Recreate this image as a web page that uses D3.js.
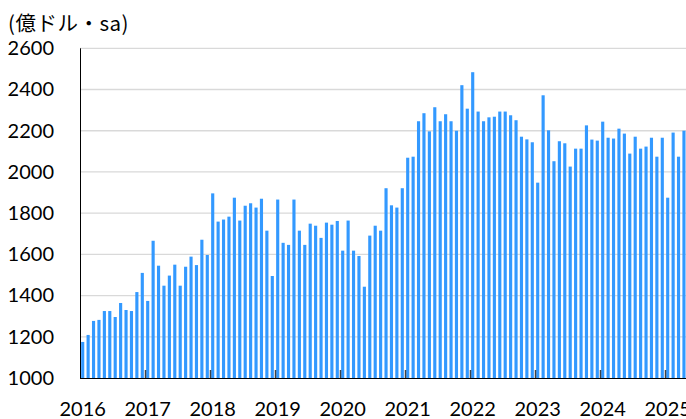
<!DOCTYPE html>
<html>
<head>
<meta charset="utf-8">
<script src="https://cdn.jsdelivr.net/npm/d3@7"></script>
<style>
  body { margin: 0; background: #fff; }
  #wrapper svg { display: block; }
</style>
</head>
<body>
<div id="wrapper"></div>
<script>
// monthly values, Jan 2016 .. Apr 2025 (億ドル, sa)
const values2016 = [1175, 1209, 1277, 1282, 1325, 1325, 1296, 1364, 1330, 1325, 1417, 1510];
const values2017 = [1374, 1666, 1545, 1448, 1497, 1550, 1448, 1540, 1589, 1548, 1671, 1597];
const values2018 = [1896, 1759, 1769, 1783, 1875, 1764, 1836, 1848, 1827, 1870, 1715, 1495];
const values2019 = [1866, 1656, 1646, 1866, 1715, 1646, 1749, 1739, 1680, 1754, 1744, 1762];
const values2020 = [1618, 1764, 1618, 1592, 1443, 1691, 1739, 1715, 1921, 1838, 1827, 1921];
const values2021 = [2069, 2074, 2246, 2285, 2197, 2314, 2246, 2280, 2246, 2200, 2421, 2307];
const values2022 = [2484, 2293, 2246, 2265, 2268, 2293, 2293, 2275, 2251, 2171, 2158, 2144];
const values2023 = [1948, 2372, 2202, 2052, 2149, 2139, 2026, 2113, 2113, 2226, 2157, 2152];
const values2024 = [2244, 2166, 2162, 2210, 2186, 2089, 2171, 2113, 2123, 2166, 2074, 2166];
const values2025 = [1875, 2191, 2074, 2200];

const years = [2016, 2017, 2018, 2019, 2020, 2021, 2022, 2023, 2024, 2025];
const yTicks = [1000, 1200, 1400, 1600, 1800, 2000, 2200, 2400, 2600];
const unitLabel = "(億ドル・sa)";

const dataset = [values2016, values2017, values2018, values2019, values2020,
                 values2021, values2022, values2023, values2024, values2025]
    .flatMap((vals, yi) => vals.map((v, m) => ({ year: years[yi], month: m, value: v })));

// every month of the axis (2016-2025), the chart is cut off at the right edge
const months = years.flatMap(y => d3.range(12).map(m => `${y}-${m + 1}`));
const keyAccessor = d => `${d.year}-${d.month + 1}`;
const yAccessor = d => d.value;

const dimensions = {
    width: 686,
    height: 419,
    left: 80,
    top: 48.3,
    bottom: 378,
    step: 65 / 12,
};

const wrapper = d3.select("#wrapper")
    .append("svg")
    .attr("width", dimensions.width)
    .attr("height", dimensions.height);

const pad = 0.42;
const xScale = d3.scaleBand()
    .domain(months)
    .range([dimensions.left, dimensions.left + months.length * dimensions.step])
    .paddingInner(pad)
    .paddingOuter(pad / 2);

const yScale = d3.scaleLinear()
    .domain([1000, 2600])
    .range([dimensions.bottom, dimensions.top]);

// gridlines
wrapper.append("g")
    .selectAll("line")
    .data(yTicks.slice(1))
    .join("line")
    .attr("x1", dimensions.left)
    .attr("x2", dimensions.width)
    .attr("y1", d => yScale(d))
    .attr("y2", d => yScale(d))
    .attr("stroke", "#d9d9d9")
    .attr("stroke-width", 1.3);

// bars
wrapper.append("g")
    .selectAll("rect")
    .data(dataset)
    .join("rect")
    .attr("x", d => xScale(keyAccessor(d)))
    .attr("width", xScale.bandwidth())
    .attr("y", d => yScale(yAccessor(d)))
    .attr("height", d => yScale(1000) - yScale(yAccessor(d)))
    .attr("fill", "#3399ff");

// y axis
const yAxisGenerator = d3.axisLeft(yScale)
    .tickValues(yTicks)
    .tickSize(0)
    .tickPadding(26)
    .tickFormat(d3.format("d"));

const yAxis = wrapper.append("g")
    .attr("transform", `translate(${dimensions.left},0)`)
    .call(yAxisGenerator);
yAxis.select(".domain").remove();
yAxis.selectAll("text")
    .attr("fill", "#000")
    .style("font-family", "Lato, 'Liberation Sans', sans-serif")
    .style("font-size", "20px");

wrapper.append("line")
    .attr("x1", dimensions.left + 0.5)
    .attr("x2", dimensions.left + 0.5)
    .attr("y1", dimensions.top)
    .attr("y2", dimensions.bottom)
    .attr("stroke", "#000")
    .attr("stroke-width", 1);

// x axis
wrapper.append("line")
    .attr("x1", dimensions.left)
    .attr("x2", dimensions.width)
    .attr("y1", dimensions.bottom + 0.5)
    .attr("y2", dimensions.bottom + 0.5)
    .attr("stroke", "#000")
    .attr("stroke-width", 1.2);

const boundary = key => Math.round(xScale(key) - xScale.step() * xScale.paddingOuter()) + 0.5;

wrapper.append("g")
    .selectAll("line")
    .data(years.slice(1))
    .join("line")
    .attr("x1", d => boundary(`${d}-1`))
    .attr("x2", d => boundary(`${d}-1`))
    .attr("y1", dimensions.bottom - 8)
    .attr("y2", dimensions.bottom)
    .attr("stroke", "#404040")
    .attr("stroke-width", 1.5);

wrapper.append("g")
    .selectAll("text")
    .data(years)
    .join("text")
    .attr("x", d => xScale(`${d}-1`) + xScale.bandwidth() / 2)
    .attr("y", 416)
    .attr("text-anchor", "middle")
    .style("font-family", "Lato, 'Liberation Sans', sans-serif")
    .style("font-size", "20px")
    .text(d => d);

// unit label
wrapper.append("text")
    .attr("x", 8)
    .attr("y", 31)
    .style("font-family", "'Noto Sans CJK JP', sans-serif")
    .style("font-size", "20.5px")
    .style("letter-spacing", "0.5px")
    .text(unitLabel);
</script>
</body>
</html>
